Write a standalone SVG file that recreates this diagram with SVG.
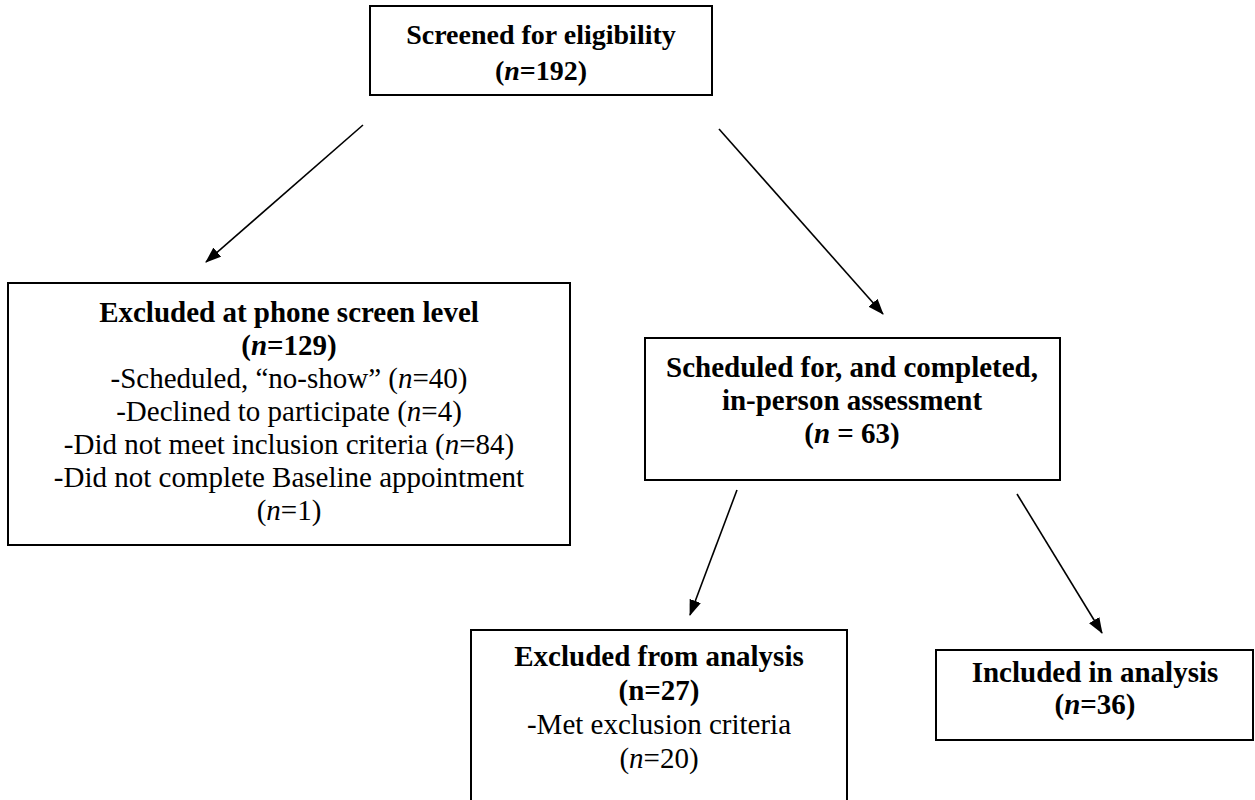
<svg xmlns="http://www.w3.org/2000/svg" width="1255" height="800" viewBox="0 0 1255 800">
<defs>
<style>
.box{fill:#fff;stroke:#000;stroke-width:2}
.t{font-family:"Liberation Serif","Times New Roman",serif;font-size:29px;text-anchor:middle;fill:#000}
.b{font-weight:bold}
.conn{stroke:#000;stroke-width:1.6;fill:none;marker-end:url(#ah)}
</style>
<marker id="ah" viewBox="0 0 16 12" refX="15" refY="6" markerWidth="16" markerHeight="12" orient="auto" markerUnits="userSpaceOnUse">
<path d="M0,0 L16,6 L0,12 z" fill="#000"/>
</marker>
</defs>
<rect width="1255" height="800" fill="#fff"/>
<g id="connectors">
<line class="conn" x1="363" y1="125" x2="206" y2="262"/>
<line class="conn" x1="719" y1="129" x2="883" y2="314"/>
<line class="conn" x1="737" y1="490" x2="690" y2="615"/>
<line class="conn" x1="1017" y1="494" x2="1102" y2="633"/>
</g>
<g id="n1">
<rect class="box" x="370" y="6" width="342" height="89"/>
<text class="t b" x="541" y="44" style="font-size:28px">Screened for eligibility</text>
<text class="t b" x="541" y="80" style="font-size:28px">(<tspan font-style="italic">n</tspan>=192)</text>
</g>
<g id="n2">
<rect class="box" x="8" y="283" width="562" height="262"/>
<text class="t b" x="289" y="322">Excluded at phone screen level</text>
<text class="t b" x="289" y="355">(<tspan font-style="italic">n</tspan>=129)</text>
<text class="t" x="289" y="388">-Scheduled, “no-show” (<tspan font-style="italic">n</tspan>=40)</text>
<text class="t" x="289" y="421">-Declined to participate (<tspan font-style="italic">n</tspan>=4)</text>
<text class="t" x="289" y="454">-Did not meet inclusion criteria (<tspan font-style="italic">n</tspan>=84)</text>
<text class="t" x="289" y="487">-Did not complete Baseline appointment</text>
<text class="t" x="289" y="520">(<tspan font-style="italic">n</tspan>=1)</text>
</g>
<g id="n3">
<rect class="box" x="645" y="338" width="415" height="142"/>
<text class="t b" x="852" y="377">Scheduled for, and completed,</text>
<text class="t b" x="852" y="410">in-person assessment</text>
<text class="t b" x="852" y="443">(<tspan font-style="italic">n</tspan> = 63)</text>
</g>
<g id="n4">
<rect class="box" x="471" y="630" width="376" height="180"/>
<text class="t b" x="659" y="666">Excluded from analysis</text>
<text class="t b" x="659" y="700">(n=27)</text>
<text class="t" x="659" y="734">-Met exclusion criteria</text>
<text class="t" x="659" y="768">(<tspan font-style="italic">n</tspan>=20)</text>
</g>
<g id="n5">
<rect class="box" x="936" y="650" width="317" height="90"/>
<text class="t b" x="1095" y="682">Included in analysis</text>
<text class="t b" x="1095" y="714">(<tspan font-style="italic">n</tspan>=36)</text>
</g>
</svg>
